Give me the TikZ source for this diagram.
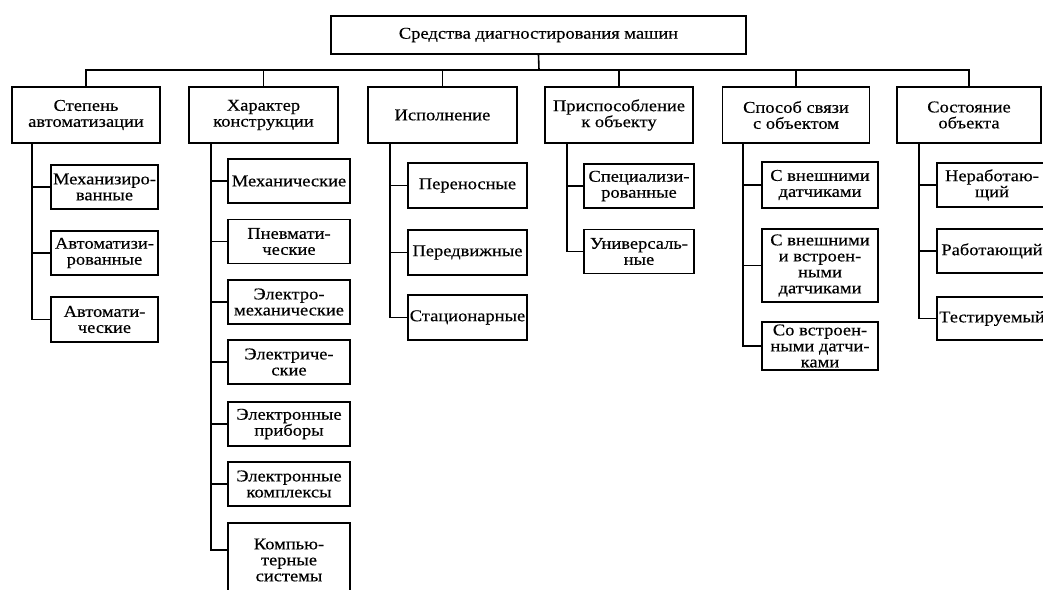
\documentclass[tikz,border=0pt]{standalone}
\usepackage{fontspec}
\setmainfont{Liberation Serif}[FakeStretch=1.12,FakeBold=0.4]
\begin{document}
\begin{tikzpicture}[x=1pt,y=-1pt,
  box/.style={draw, line width=1.6pt, inner sep=0pt, align=center,
    font=\fontsize{16.5pt}{16pt}\selectfont},
  lvl/.style={box, minimum height=56pt},
  child/.style={box, minimum height=44pt},
  link/.style={line width=1.6pt}]
\useasboundingbox (0,0) rectangle (1043,589);
\clip (0,0) rectangle (1043,589);

% root
\node[box, minimum width=415pt, minimum height=38pt] (root) at (538.5,35)
  {Средства диагностирования машин};

% classification features
\node[lvl, minimum width=148pt] (a1) at (86,115) {Степень\\автоматизации};
\node[lvl, minimum width=149pt] (a2) at (263.5,115) {Характер\\конструкции};
\node[lvl, minimum width=149pt] (a3) at (442.5,115) {Исполнение};
\node[lvl, minimum width=148pt] (a4) at (619,115) {Приспособление\\к объекту};
\node[lvl, minimum width=147pt] (a5) at (796,115) {Способ связи\\с объектом};
\node[lvl, minimum width=144pt] (a6) at (969,115) {Состояние\\объекта};

% degree of automation
\node[child, minimum width=107pt] (b1) at (104.5,187) {Механизиро-\\ванные};
\node[child, minimum width=107pt] (b2) at (104.5,253) {Автоматизи-\\рованные};
\node[child, minimum width=107pt, minimum height=45pt] (b3) at (104.5,319.5) {Автомати-\\ческие};

% design
\node[child, minimum width=122pt] (c1) at (289,181) {Механические};
\node[child, minimum width=122pt] (c2) at (289,241.5) {Пневмати-\\ческие};
\node[child, minimum width=122pt] (c3) at (289,302) {Электро-\\механические};
\node[child, minimum width=122pt] (c4) at (289,362) {Электриче-\\ские};
\node[child, minimum width=122pt] (c5) at (289,424) {Электронные\\приборы};
\node[child, minimum width=122pt] (c6) at (289,484) {Электронные\\комплексы};
\node[child, minimum width=122pt, minimum height=74pt] (c7) at (289,560) {Компью-\\терные\\системы};

% execution
\node[child, minimum width=119pt, minimum height=45pt] (d1) at (467.5,185.5) {Переносные};
\node[child, minimum width=119pt, minimum height=45pt] (d2) at (467.5,252.5) {Передвижные};
\node[child, minimum width=119pt, minimum height=45pt] (d3) at (467.5,317.5) {Стационарные};

% adaptation to object
\node[child, minimum width=110pt] (e1) at (639,186) {Специализи-\\рованные};
\node[child, minimum width=110pt] (e2) at (639,251.5) {Универсаль-\\ные};

% connection with object
\node[child, minimum width=116pt, minimum height=46pt] (f1) at (820,185) {С внешними\\датчиками};
\node[child, minimum width=116pt, minimum height=73pt] (f2) at (820,265.5) {С внешними\\и встроен-\\ными\\датчиками};
\node[child, minimum width=116pt, minimum height=48pt] (f3) at (820,346) {Со встроен-\\ными датчи-\\ками};

% object state
\node[child, minimum width=110pt] (g1) at (992,185) {Неработаю-\\щий};
\node[child, minimum width=110pt] (g2) at (992,251) {Работающий};
\node[child, minimum width=110pt, minimum height=43pt] (g3) at (992,318.5) {Тестируемый};

% bus under the root
\coordinate (bus) at (539,70);
\draw[link] (root.south) -- (bus);
\draw[link] (a1.north) |- (bus) -| (a6.north);
\foreach \n in {a2,a3,a4,a5} \draw[link] (\n.north) -- (\n.north |- bus);

% stems of each group
\coordinate (s1) at ([xshift=21pt]a1.south west);
\coordinate (s2) at ([xshift=23pt]a2.south west);
\coordinate (s3) at ([xshift=23pt]a3.south west);
\coordinate (s4) at ([xshift=23pt]a4.south west);
\coordinate (s5) at ([xshift=21pt]a5.south west);
\coordinate (s6) at ([xshift=23pt]a6.south west);

\draw[link] (s1) |- (b3.west);
\foreach \c in {b1,b2} \draw[link] (s1 |- \c.west) -- (\c.west);

\draw[link] (s2) |- ([yshift=10pt]c7.west);
\foreach \c in {c1,c2,c3,c4,c5,c6} \draw[link] (s2 |- \c.west) -- (\c.west);

\draw[link] (s3) |- (d3.west);
\foreach \c in {d1,d2} \draw[link] (s3 |- \c.west) -- (\c.west);

\draw[link] (s4) |- (e2.west);
\draw[link] (s4 |- e1.west) -- (e1.west);

\draw[link] (s5) |- (f3.west);
\foreach \c in {f1,f2} \draw[link] (s5 |- \c.west) -- (\c.west);

\draw[link] (s6) |- (g3.west);
\foreach \c in {g1,g2} \draw[link] (s6 |- \c.west) -- (\c.west);
\end{tikzpicture}
\end{document}
